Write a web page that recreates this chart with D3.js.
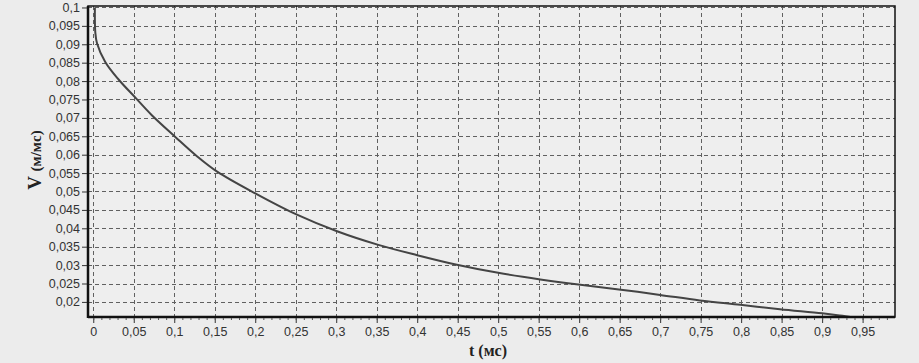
<!DOCTYPE html>
<html>
<head>
  <title>V(t)</title>
  <script src="https://d3js.org/d3.v7.min.js"></script>
  <style>
    body { margin: 0; background: #ececec; }
    text { font-family: "Liberation Sans", Arial, sans-serif; }
  </style>
</head>
<body>
<svg width="919" height="363"></svg>
<script>
  // values
  const tValues = [0.002, 0.0025, 0.0046, 0.0148, 0.031, 0.052, 0.072, 0.101, 0.128, 0.153, 0.200,
    0.2515, 0.301, 0.352, 0.400, 0.449, 0.500, 0.552, 0.599, 0.649, 0.700, 0.749, 0.799, 0.848,
    0.900, 0.922, 0.938];
  const vValues = [0.1, 0.0933, 0.0903, 0.0852, 0.0805, 0.0755, 0.0708, 0.0649, 0.0596, 0.0554, 0.0495,
    0.0437, 0.0392, 0.0355, 0.0327, 0.0301, 0.0279, 0.0261, 0.0247, 0.0234, 0.0219, 0.0204, 0.0192, 0.018,
    0.0169, 0.0163, 0.0158];
  const xTicks = d3.range(0, 20).map(i => i * 0.05);
  const yTicks = d3.range(0, 17).map(i => 0.02 + i * 0.005);
  const xMinor = d3.range(0, 99).map(i => i * 0.01);

  const svg = d3.select("svg");
  const pl = 88, pr = 895, pt = 6, pb = 317;

  const x = d3.scaleLinear().domain([-0.0065, 0.990]).range([pl, pr]);
  const y = d3.scaleLinear().domain([0.0159, 0.1004]).range([pb, pt]);

  const fmt = v => String(+v.toFixed(3)).replace(".", ",");

  svg.append("rect")
    .attr("x", pl).attr("y", pt)
    .attr("width", pr - pl).attr("height", pb - pt)
    .attr("fill", "#eeeeee");

  // grid
  const grid = svg.append("g").attr("stroke", "#606060").attr("stroke-dasharray", "4,3").attr("stroke-width", 1);
  grid.selectAll(".gx").data(xTicks).enter().append("line")
    .attr("x1", d => Math.round(x(d)) + 0.5).attr("x2", d => Math.round(x(d)) + 0.5)
    .attr("y1", pt).attr("y2", pb);
  grid.selectAll(".gy").data(yTicks).enter().append("line")
    .attr("y1", d => Math.round(y(d)) + 0.5).attr("y2", d => Math.round(y(d)) + 0.5)
    .attr("x1", pl).attr("x2", pr);

  // curve
  const pts = tValues.map((t, i) => [t, vValues[i]]);
  svg.append("clipPath").attr("id", "clip").append("rect")
    .attr("x", pl).attr("y", pt).attr("width", pr - pl).attr("height", pb - pt);
  svg.append("path")
    .datum(pts)
    .attr("clip-path", "url(#clip)")
    .attr("fill", "none")
    .attr("stroke", "#444")
    .attr("stroke-width", 2)
    .attr("d", d3.line().x(d => x(d[0])).y(d => y(d[1])).curve(d3.curveCatmullRom.alpha(0.5)));

  // frame
  svg.append("rect")
    .attr("x", pl).attr("y", pt)
    .attr("width", pr - pl).attr("height", pb - pt)
    .attr("fill", "none").attr("stroke", "#111").attr("stroke-width", 1.5);
  svg.append("line").attr("x1", pl).attr("x2", pl).attr("y1", pt).attr("y2", pb + 1)
    .attr("stroke", "#111").attr("stroke-width", 2.5);
  svg.append("line").attr("x1", pl).attr("x2", pr).attr("y1", pb).attr("y2", pb)
    .attr("stroke", "#111").attr("stroke-width", 2.5);

  // axes
  const xAxis = d3.axisBottom(x).tickValues(xTicks).tickFormat(fmt).tickSize(5).tickPadding(4);
  const gx = svg.append("g").attr("transform", `translate(0,${pb + 1})`).call(xAxis);
  gx.select(".domain").remove();
  gx.selectAll("text").attr("font-size", 12.5).attr("fill", "#333");
  gx.selectAll("line").attr("stroke", "#333");
  svg.append("g").attr("transform", `translate(0,${pb + 1})`)
    .call(d3.axisBottom(x).tickValues(xMinor).tickFormat("").tickSize(2))
    .call(g => g.select(".domain").remove())
    .selectAll("line").attr("stroke", "#555");

  const yAxis = d3.axisLeft(y).tickValues(yTicks).tickFormat(fmt).tickSize(5).tickPadding(2);
  const gy = svg.append("g").attr("transform", `translate(${pl - 1},0)`).call(yAxis);
  gy.select(".domain").remove();
  gy.selectAll("text").attr("font-size", 12.5).attr("fill", "#333");
  gy.selectAll("line").attr("stroke", "#333");

  // titles
  const yt = svg.append("text")
    .attr("transform", "translate(41,160) rotate(-90)")
    .attr("text-anchor", "middle")
    .style("font-family", "'Liberation Serif', 'Times New Roman', serif")
    .attr("font-weight", "bold")
    .attr("fill", "#222");
  yt.append("tspan").attr("font-size", 19).text("V ");
  yt.append("tspan").attr("font-size", 15).text("(м/мс)");

  svg.append("text")
    .attr("x", 488).attr("y", 356)
    .attr("text-anchor", "middle")
    .style("font-family", "'Liberation Serif', 'Times New Roman', serif")
    .attr("font-weight", "bold")
    .attr("font-size", 16)
    .attr("fill", "#222")
    .text("t (мс)");
</script>
</body>
</html>
